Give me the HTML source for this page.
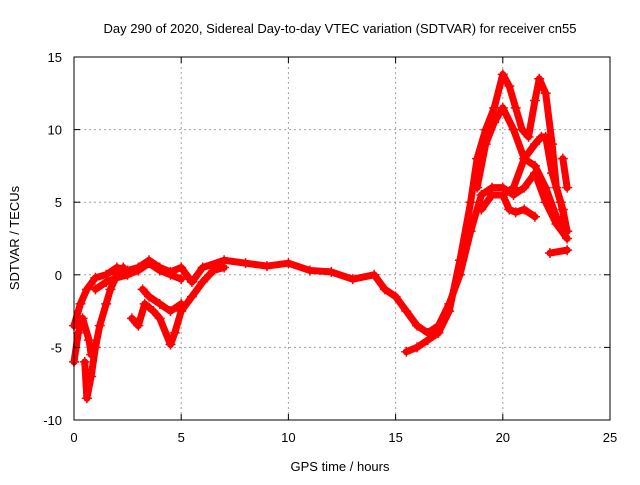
<!DOCTYPE html>
<html><head><meta charset="utf-8"><style>
body{margin:0;background:#fff;}
svg text{font-family:"Liberation Sans",sans-serif;font-size:13px;fill:#000;}
</style></head><body>
<svg id="chart" width="640" height="480" xmlns="http://www.w3.org/2000/svg">
<rect width="640" height="480" fill="#fff"/>
<text x="340" y="33" text-anchor="middle">Day 290 of 2020, Sidereal Day-to-day VTEC variation (SDTVAR) for receiver cn55</text>
<text x="340" y="471" text-anchor="middle">GPS time / hours</text>
<text transform="translate(19,238) rotate(-90)" text-anchor="middle">SDTVAR / TECUs</text>
<g id="grid"></g><g id="series"></g>
<rect x="74" y="57" width="536" height="363" fill="none" stroke="#000" stroke-width="1"/>
<g id="ticks"></g>
</svg>
<script>
const xTicks=[0,5,10,15,20,25];
const yTicks=[-10,-5,0,5,10,15];
const traceA=[[0,-3.5],[0.3,-2],[0.6,-1],[1,-0.2],[1.5,0],[2,0.5],[2.5,0.3],[3,0.5],[3.5,1],[4,0.5],[4.5,0.2],[5,0.5],[5.5,-0.5],[6,0.5],[7,1],[8,0.8],[9,0.6],[10,0.8],[11,0.3],[12,0.2],[13,-0.3],[14,0],[14.5,-1],[15,-1.5],[15.5,-2.5],[16,-3.5],[16.5,-4],[17,-3.5],[17.5,-2],[18,0],[18.5,3],[19,5.5],[19.5,6],[20,6],[20.5,5.5],[21,6],[21.5,7],[22,5],[22.5,3.5],[23,2.5]];
const traceB=[[0.5,-6],[0.6,-8.5],[0.8,-7],[1,-5],[1.2,-3.5],[1.5,-2],[1.7,-1],[2,0],[2.3,0.5]];
const traceC=[[0,-6],[0.2,-4],[0.4,-3],[0.7,-4.5],[0.8,-5.5]];
const traceD=[[2.7,-3],[3,-3.5],[3.3,-2],[3.7,-2.5],[4,-3],[4.5,-4.8],[4.7,-4],[5,-2.5],[5.5,-1.5],[6,-0.5],[6.5,0.3],[7,0.5]];
const traceE=[[3.2,-1],[3.5,-1.5],[4,-2],[4.5,-2.5],[5,-2]];
const traceF=[[15.5,-5.3],[16,-5],[16.5,-4.5],[17,-4],[17.5,-2.5],[18,1],[18.5,5],[18.8,8],[19.2,10],[19.6,11.5],[20,13.8],[20.3,13],[20.6,11.5],[20.9,10],[21.2,9.5],[21.5,12],[21.7,13.5],[22,12.5],[22.3,9],[22.5,6],[22.8,4.5],[23,3]];
const traceG=[[18.8,6],[19.2,9],[19.6,10.5],[20,11.5],[20.5,10],[21,8],[21.5,9],[21.8,9.5],[22,9.5],[22.3,7],[22.7,5],[23,3]];
const traceH=[[19,4.5],[19.5,5.5],[20,5.5],[20.3,4.5],[20.6,4.3],[21,4.5],[21.5,4]];
const traceI=[[20,5.5],[20.5,6],[21,8],[21.5,7.5],[22,6],[22.5,4],[22.9,3]];
const traceJ=[[22.2,1.5],[23,1.7]];
const traceK=[[22.8,8],[23,6]];
const traceL=[[1,-1],[1.5,-0.5],[2,-0.2],[2.5,0],[3,0.3],[3.5,0.8],[4,0.3],[4.5,0],[5,-0.3]];
const traces=[traceA,traceB,traceC,traceD,traceE,traceF,traceG,traceH,traceI,traceJ,traceK,traceL];
const NS="http://www.w3.org/2000/svg";
const L=74,R=610,T=57,B=420;
function xs(v){return L+(v-0)/(25-0)*(R-L);}
function ys(v){return B-(v+10)/(15+10)*(B-T);}
function mk(tag,attrs,parent){const e=document.createElementNS(NS,tag);for(const k in attrs)e.setAttribute(k,attrs[k]);parent.appendChild(e);return e;}
const grid=document.getElementById('grid'),ticks=document.getElementById('ticks'),ser=document.getElementById('series');
xTicks.forEach(t=>{const x=xs(t);
 if(t>0&&t<25){const g=mk('line',{x1:x,x2:x,y1:T,y2:B,stroke:'#a0a0a0','stroke-dasharray':'2,3'},grid);
 
 }
 mk('line',{x1:x,x2:x,y1:B,y2:B-6,stroke:'#000'},ticks);mk('line',{x1:x,x2:x,y1:T,y2:T+6,stroke:'#000'},ticks);
 const lb=mk('text',{x:x,y:B+22,'text-anchor':'middle'},ticks);lb.textContent=t;
 
 });
yTicks.forEach(t=>{const y=ys(t);
 if(t>-10&&t<15){const g=mk('line',{x1:L,x2:R,y1:y,y2:y,stroke:'#a0a0a0','stroke-dasharray':'2,3'},grid);
 
 }
 mk('line',{x1:L,x2:L+6,y1:y,y2:y,stroke:'#000'},ticks);mk('line',{x1:R,x2:R-6,y1:y,y2:y,stroke:'#000'},ticks);
 const lb=mk('text',{x:L-12,y:y+5,'text-anchor':'end'},ticks);lb.textContent=t;
 
 });
traces.forEach((tr,i)=>{
 const pl=mk('polyline',{points:tr.map(p=>xs(p[0])+','+ys(p[1])).join(' '),fill:'none',stroke:'#ff0000','stroke-width':7,'stroke-linejoin':'round','stroke-linecap':'round'},ser);
 
 
 tr.forEach(p=>{const x=xs(p[0]),y=ys(p[1]);
  const m=mk('path',{d:`M${x-5},${y}H${x+5}M${x},${y-5}V${y+5}`,stroke:'#ff0000','stroke-width':1.5},ser);
  
  });
});
</script>
</body></html>
